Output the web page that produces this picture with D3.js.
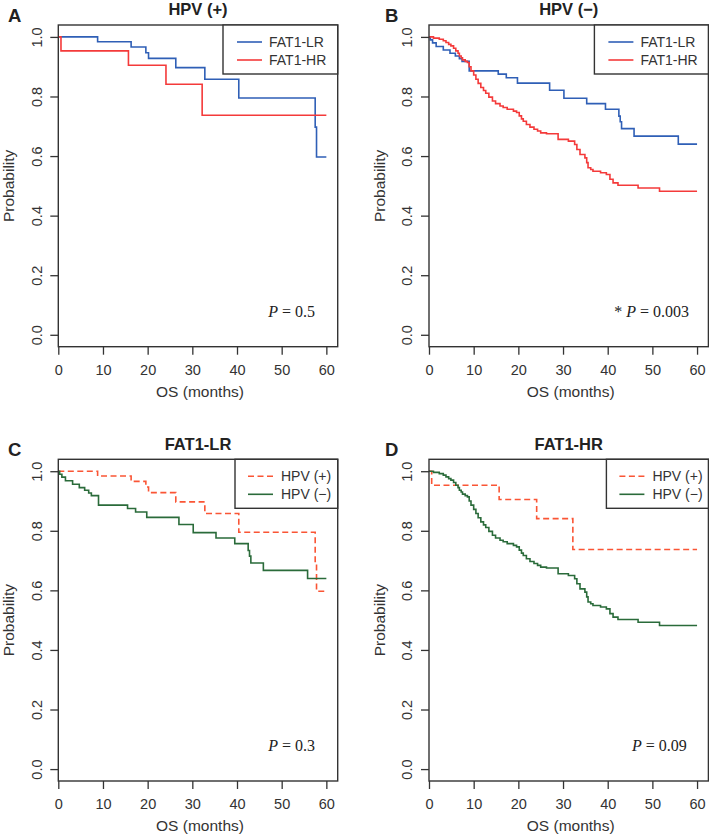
<!DOCTYPE html>
<html>
<head>
<meta charset="utf-8">
<script src="https://cdn.jsdelivr.net/npm/d3@7"></script>
<style>
  html, body { margin: 0; padding: 0; background: #fff; }
  svg { display: block; }
</style>
</head>
<body>
<svg id="chart" width="709" height="838"></svg>
<script>
// ---------------- DATA ----------------
const xTicks = [0, 10, 20, 30, 40, 50, 60];
const yTicks = [0, 0.2, 0.4, 0.6, 0.8, 1.0];

// HPV(+), FAT1-LR
const lrPosTime = [0, 8.8, 16.3, 19.6, 20.2, 26.3, 32.8, 40.4, 57.5, 57.8, 60];
const lrPosSurv = [1, 0.984, 0.966, 0.947, 0.928, 0.897, 0.858, 0.795, 0.697, 0.597, 0.597];
// HPV(+), FAT1-HR
const hrPosTime = [0, 0.6, 15.7, 24.1, 32.2, 60];
const hrPosSurv = [1, 0.953, 0.905, 0.841, 0.737, 0.737];
// HPV(-), FAT1-LR
const lrNegTime = [0, 0.3, 0.8, 1.6, 3.2, 4.7, 5.9, 6.8, 7.4, 9.0, 15.5, 17.3, 19.8, 27.0, 30.2, 35.3, 39.5, 42.5, 42.8, 43.1, 45.9, 55.8, 60];
const lrNegSurv = [1, 0.99, 0.98, 0.968, 0.956, 0.945, 0.936, 0.927, 0.918, 0.886, 0.875, 0.863, 0.845, 0.821, 0.794, 0.776, 0.757, 0.734, 0.715, 0.692, 0.667, 0.640, 0.640];
// HPV(-), FAT1-HR
const hrNegTime = [0, 1.0, 2.3, 3.2, 3.8, 4.4, 4.9, 5.5, 6.0, 6.5, 6.8, 7.2, 7.5, 8.1, 8.6, 9.0, 9.4, 10.0, 10.5, 11.0, 11.6, 12.2, 12.7, 13.4, 14.2, 14.9, 15.9, 16.6, 17.5, 18.9, 19.6, 20.2, 20.7, 21.1, 21.8, 22.6, 23.5, 24.3, 25.0, 26.3, 28.9, 31.2, 32.6, 33.1, 33.8, 34.9, 35.3, 35.6, 36.2, 36.7, 38.4, 39.7, 40.5, 41.2, 42.3, 46.8, 51.6, 60];
const hrNegSurv = [1, 0.996, 0.992, 0.987, 0.981, 0.975, 0.970, 0.962, 0.953, 0.945, 0.936, 0.930, 0.923, 0.918, 0.914, 0.900, 0.886, 0.872, 0.858, 0.844, 0.830, 0.820, 0.811, 0.798, 0.785, 0.776, 0.768, 0.763, 0.757, 0.751, 0.746, 0.735, 0.725, 0.717, 0.706, 0.697, 0.690, 0.684, 0.678, 0.675, 0.656, 0.650, 0.639, 0.622, 0.605, 0.594, 0.578, 0.561, 0.555, 0.549, 0.544, 0.538, 0.522, 0.510, 0.502, 0.493, 0.482, 0.482];

const panelLetters = ["A", "B", "C", "D"];
const panelTitles = ["HPV (+)", "HPV (\u2212)", "FAT1-LR", "FAT1-HR"];
const legendLabelsAB = ["FAT1-LR", "FAT1-HR"];
const legendLabelsCD = ["HPV (+)", "HPV (\u2212)"];
const pStars = ["", "* ", "", ""];
const pValues = ["0.5", "0.003", "0.3", "0.09"];

// ---------------- STYLE / LAYOUT ----------------
const BLUE = "#2f5fb6", RED = "#f43a3a", GREEN = "#2a6b3a", ORANGE = "#fa5535";
const AX = "#333333";
const W = 279.4, H = 321.7;
const origins = [[58.3, 25], [429, 25], [58.3, 459.3], [429, 459.3]];
const letterPos = [[8, 21.7], [385, 21.7], [8, 456], [385, 456]];
const pEndX = [256.7, 260, 256.7, 257.7];

const zip = (t, s) => t.map((v, i) => ({ t: v, s: s[i] }));
const series = [
  [ { d: zip(lrPosTime, lrPosSurv), c: BLUE, dash: null }, { d: zip(hrPosTime, hrPosSurv), c: RED, dash: null } ],
  [ { d: zip(lrNegTime, lrNegSurv), c: BLUE, dash: null }, { d: zip(hrNegTime, hrNegSurv), c: RED, dash: null } ],
  [ { d: zip(lrPosTime, lrPosSurv), c: ORANGE, dash: "6,3.5" }, { d: zip(lrNegTime, lrNegSurv), c: GREEN, dash: null } ],
  [ { d: zip(hrPosTime, hrPosSurv), c: ORANGE, dash: "6,3.5" }, { d: zip(hrNegTime, hrNegSurv), c: GREEN, dash: null } ]
];
const legends = [legendLabelsAB, legendLabelsAB, legendLabelsCD, legendLabelsCD];
const legendW = [114.7, 114, 102.7, 102];

const svg = d3.select("#chart");
const SANS = "'Liberation Sans', Arial, Helvetica, sans-serif";
const SERIF = "'Liberation Serif', 'Times New Roman', serif";

const x = d3.scaleLinear().domain([0, 62.54]).range([0, W]);
const y = d3.scaleLinear().domain([-0.04, 1.04]).range([H, 0]);

panelLetters.forEach((L, i) => {
  const [ox, oy] = origins[i];
  // panel letter
  svg.append("text").attr("x", letterPos[i][0]).attr("y", letterPos[i][1])
    .attr("font-family", SANS).attr("font-weight", "bold").attr("font-size", 18.5)
    .attr("fill", "#222").text(L);

  const g = svg.append("g").attr("transform", `translate(${ox},${oy})`);

  // title
  g.append("text").attr("x", W / 2).attr("y", -9.7).attr("text-anchor", "middle")
    .attr("font-family", SANS).attr("font-weight", "bold").attr("font-size", 16.5)
    .attr("fill", "#222").text(panelTitles[i]);

  // x axis
  const xa = g.append("g").attr("transform", `translate(0,${H})`)
    .call(d3.axisBottom(x).tickValues(xTicks).tickSize(8).tickFormat(d3.format("d")));
  xa.select(".domain").remove();
  xa.selectAll("line").attr("stroke", AX).attr("stroke-width", 1.3);
  xa.selectAll("text").attr("y", 28.3).attr("dy", null)
    .attr("font-family", SANS).attr("font-size", 14.5).attr("fill", AX);

  // y axis
  const ya = g.append("g").call(d3.axisLeft(y).tickValues(yTicks).tickSize(8).tickFormat(d3.format(".1f")));
  ya.select(".domain").remove();
  ya.selectAll("line").attr("stroke", AX).attr("stroke-width", 1.3);
  ya.selectAll("text").attr("x", 0).attr("y", 0).attr("dy", null)
    .attr("text-anchor", "middle").attr("transform", "translate(-16.8,0) rotate(-90)")
    .attr("font-family", SANS).attr("font-size", 14.5).attr("fill", AX);

  // axis titles
  g.append("text").attr("x", W / 2 + 2).attr("y", H + 50.3).attr("text-anchor", "middle")
    .attr("font-family", SANS).attr("font-size", 15.5).attr("fill", AX).text("OS (months)");
  g.append("text").attr("transform", `translate(-44.5,${H / 2}) rotate(-90)`)
    .attr("text-anchor", "middle").attr("font-family", SANS).attr("font-size", 15.5)
    .attr("fill", AX).text("Probability");

  // curves
  const line = d3.line().curve(d3.curveStepAfter).x(d => x(d.t)).y(d => y(d.s));
  series[i].forEach(s => {
    g.append("path").datum(s.d).attr("d", line).attr("fill", "none")
      .attr("stroke", s.c).attr("stroke-width", 1.6)
      .attr("stroke-dasharray", s.dash);
  });

  // box
  g.append("rect").attr("x", 0).attr("y", 0).attr("width", W).attr("height", H)
    .attr("fill", "none").attr("stroke", AX).attr("stroke-width", 1.4);

  // legend
  const lw = legendW[i];
  const lg = g.append("g").attr("transform", `translate(${W - lw},0)`);
  lg.append("rect").attr("width", lw).attr("height", 49).attr("fill", "#fff")
    .attr("stroke", AX).attr("stroke-width", 1.4);
  legends[i].forEach((lab, k) => {
    const ly = 17 + k * 18;
    const lx0 = i < 2 ? 14 : 13;
    lg.append("line").attr("x1", lx0).attr("x2", lx0 + 25).attr("y1", ly).attr("y2", ly)
      .attr("stroke", series[i][k].c).attr("stroke-width", 1.6)
      .attr("stroke-dasharray", series[i][k].dash);
    lg.append("text").attr("x", 46).attr("y", ly + 5).attr("font-family", SANS)
      .attr("font-size", 14).attr("fill", AX).text(lab);
  });

  // p value
  const pt = g.append("text").attr("x", pEndX[i]).attr("y", H - 29.5).attr("text-anchor", "end")
    .attr("font-family", SERIF).attr("font-size", 16).attr("fill", "#222");
  if (pStars[i]) pt.append("tspan").text(pStars[i]);
  pt.append("tspan").attr("font-style", "italic").text("P");
  pt.append("tspan").text(" = " + pValues[i]);
});
</script>
</body>
</html>
